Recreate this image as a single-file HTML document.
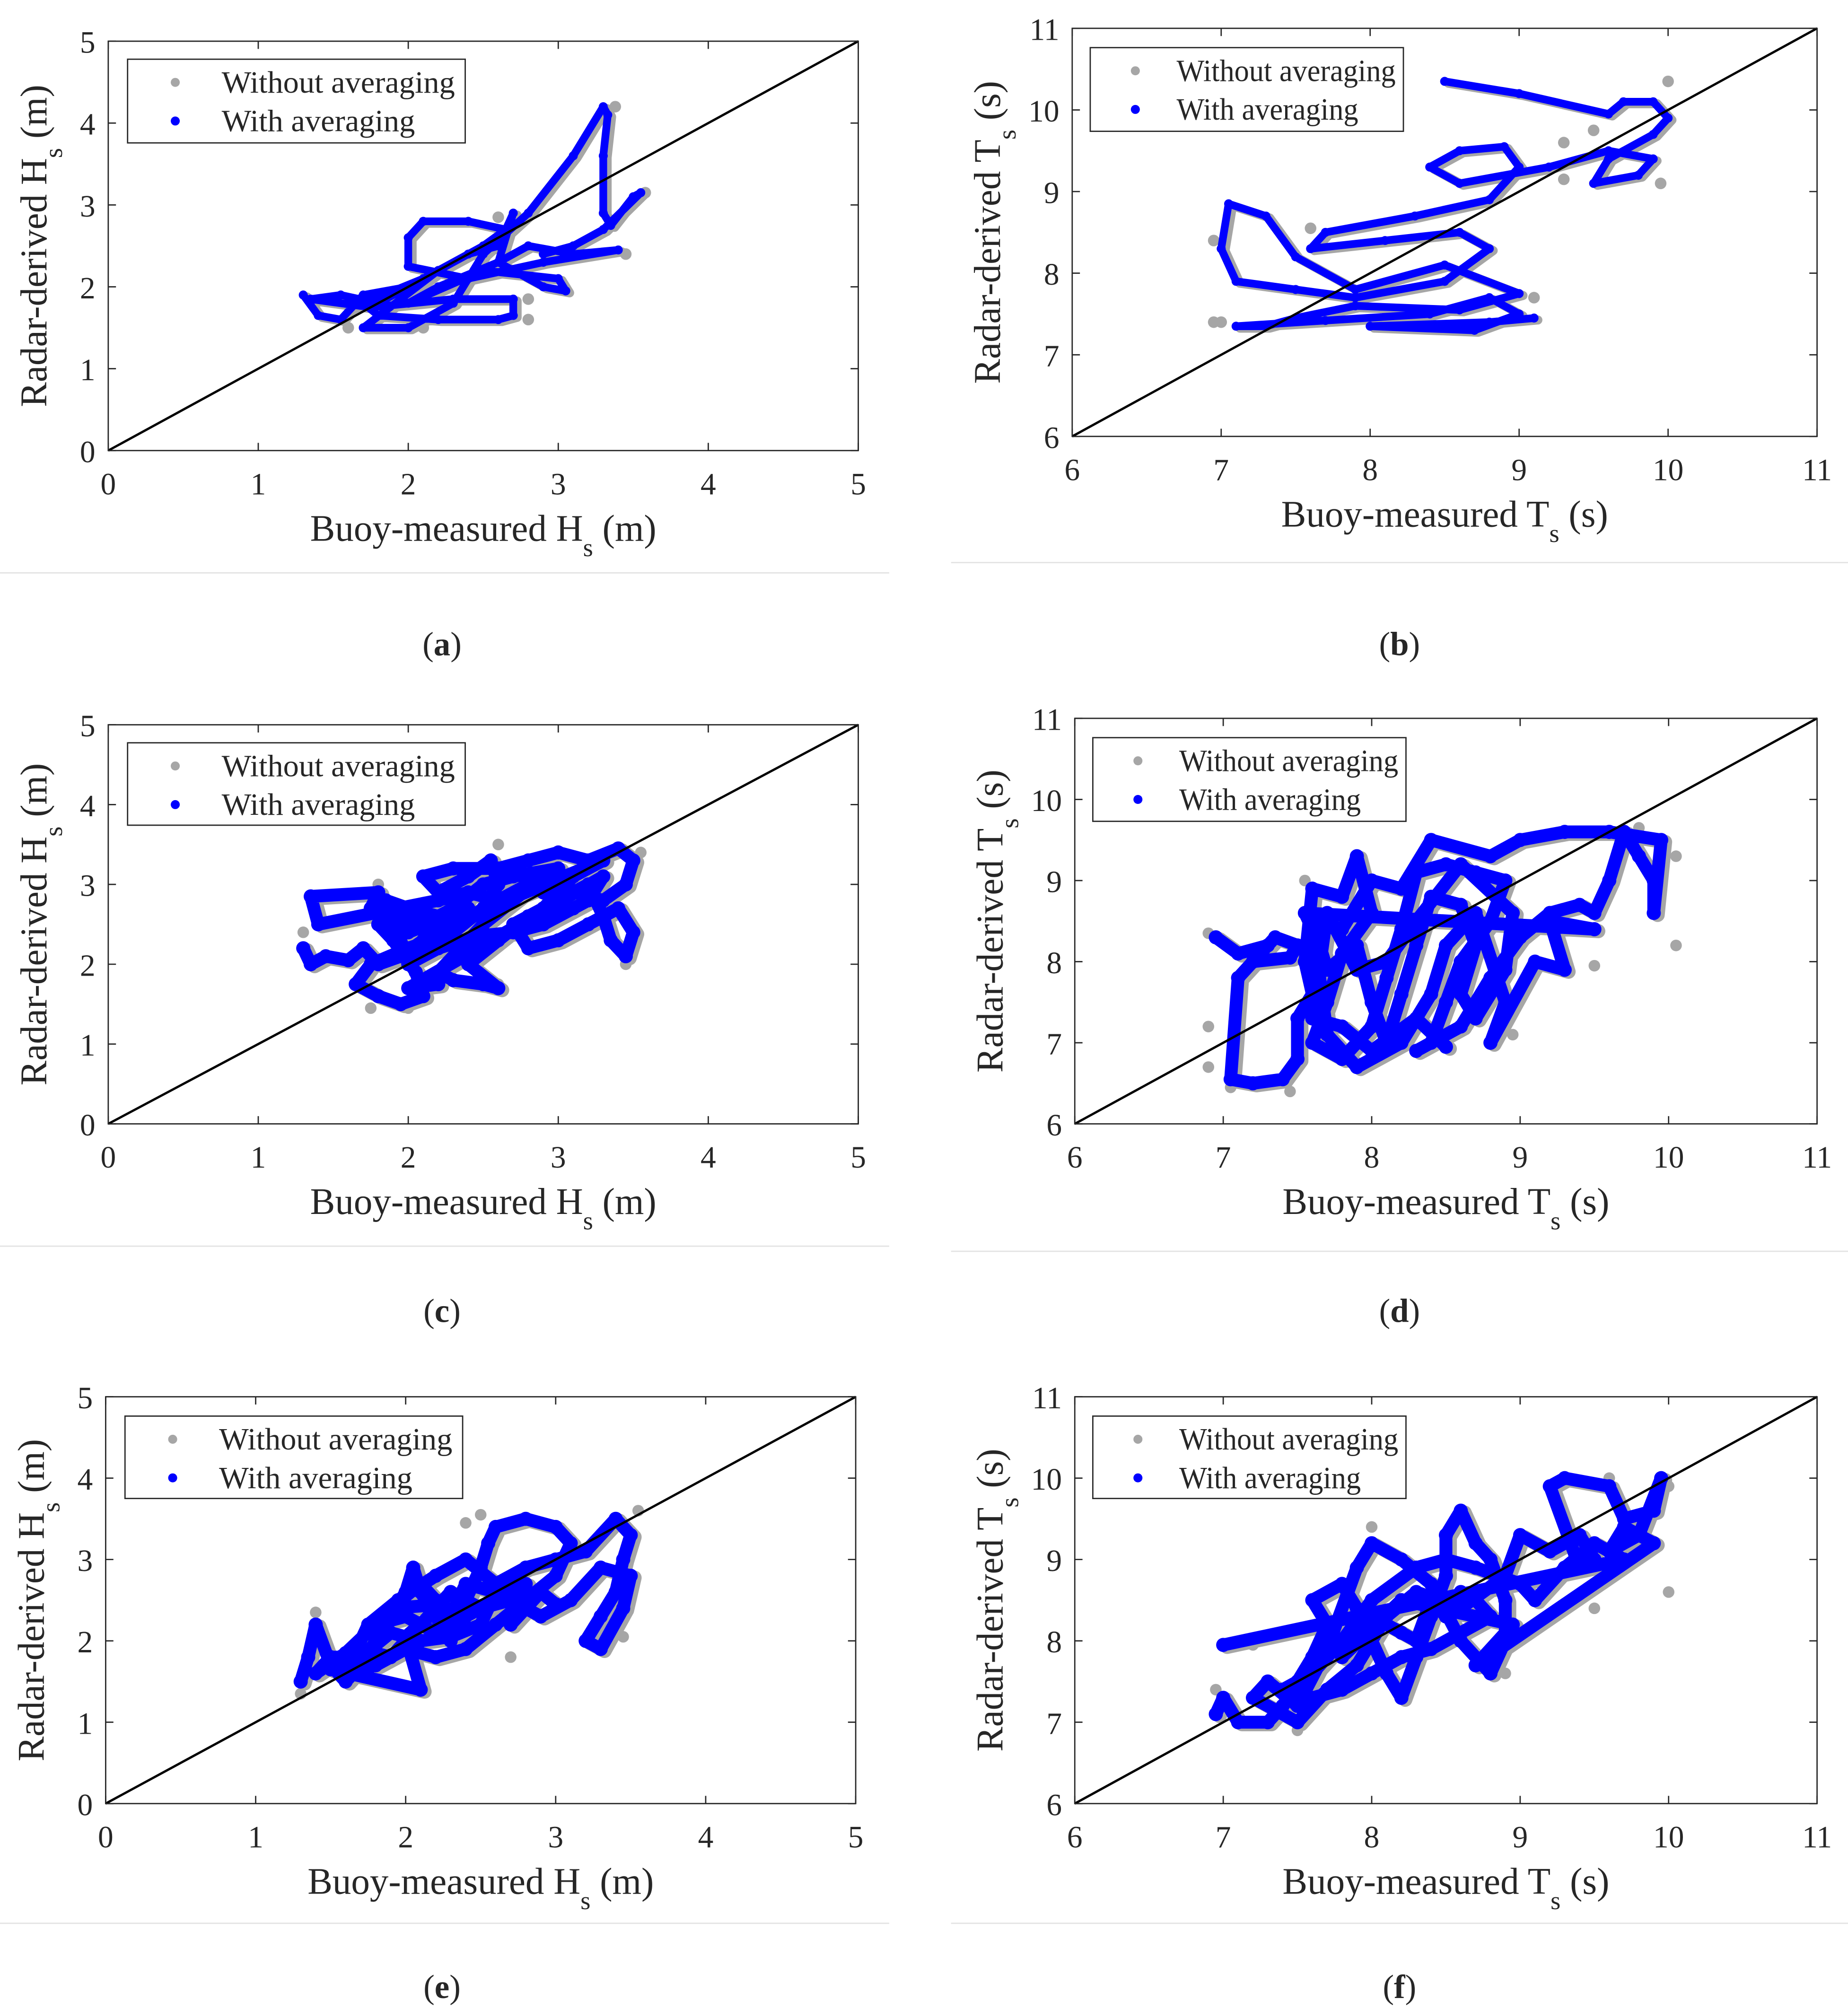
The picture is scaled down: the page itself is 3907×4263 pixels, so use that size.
<!DOCTYPE html>
<html><head><meta charset="utf-8">
<style>
html,body{margin:0;padding:0;background:#fff;}
svg{display:block;}
text{font-family:"Liberation Serif","Times New Roman",serif;fill:#262626;}
</style></head>
<body>
<svg id="fig" width="3907" height="4263" viewBox="0 0 1434 1566" preserveAspectRatio="none" xmlns="http://www.w3.org/2000/svg"></svg>
<script>
// ---------- DATA ----------
const hsTicks = [0,1,2,3,4,5];
const tsTicks = [6,7,8,9,10,11];
const legendLabels = ["Without averaging","With averaging"];

const aBlue = [[1.3,1.9],[1.4,1.65],[1.55,1.6],[1.7,1.9],[2.0,2.0],[1.8,1.8],[1.55,1.9],[1.35,1.85],[1.75,1.75],[2.3,1.85],[2.7,1.85],[2.7,1.65],[2.6,1.6],[2.2,1.6],[1.8,1.65],[1.7,1.8],[2.1,2.1],[2.4,2.4],[2.6,2.5],[2.7,2.9],[2.6,2.3],[2.2,2.0],[2.0,1.8],[2.5,2.2],[3.0,2.1],[3.05,1.95],[2.9,2.0],[2.6,2.3],[2.8,2.5],[3.1,2.4],[3.4,2.45],[2.9,2.3],[2.4,2.1],[2.0,2.25],[2.0,2.6],[2.1,2.8],[2.4,2.8],[2.65,2.7],[2.5,2.5],[2.2,2.2],[1.7,1.5],[2.0,1.5],[2.3,1.8],[2.5,2.4],[2.8,2.9],[3.1,3.6],[3.3,4.2],[3.33,4.1],[3.3,3.6],[3.3,2.9],[3.35,2.75],[3.5,3.1],[3.55,3.15],[3.3,2.7],[3.1,2.5],[2.9,2.4]];
const aGray = [[1.6,1.5],[2.1,1.5],[2.8,1.6],[2.8,1.85],[3.45,2.4],[3.38,4.2],[3.58,3.15],[2.6,2.85]];

const bBlue = [[8.5,10.35],[9.0,10.2],[9.6,9.95],[9.7,10.1],[9.9,10.1],[10.0,9.9],[9.9,9.7],[9.6,9.4],[9.5,9.1],[9.8,9.2],[9.9,9.4],[9.6,9.5],[9.2,9.3],[8.6,9.1],[8.4,9.3],[8.6,9.5],[8.9,9.55],[9.0,9.3],[8.8,8.9],[8.3,8.7],[7.7,8.5],[7.6,8.3],[8.1,8.4],[8.6,8.5],[8.8,8.3],[8.5,7.9],[7.9,7.7],[7.5,7.8],[7.1,7.9],[7.0,8.3],[7.05,8.85],[7.3,8.7],[7.5,8.2],[7.9,7.8],[8.5,8.1],[9.0,7.75],[8.6,7.55],[7.9,7.6],[7.5,7.45],[7.3,7.35],[7.1,7.35],[7.7,7.42],[8.4,7.5],[8.8,7.7],[9.0,7.5],[8.7,7.3],[8.0,7.35],[8.8,7.4],[9.1,7.45]];
const bGray = [[9.3,9.6],[9.5,9.75],[10.0,10.35],[9.95,9.1],[9.3,9.15],[7.6,8.55],[6.95,7.4],[7.0,7.4],[9.1,7.7],[6.95,8.4]];

const cBlue = [[1.3,2.2],[1.35,2.0],[1.45,2.1],[1.6,2.05],[1.7,2.2],[1.8,2.0],[1.95,2.1],[2.1,2.3],[2.2,2.6],[2.0,2.7],[1.85,2.8],[1.8,2.5],[1.9,2.3],[2.05,1.9],[2.1,1.6],[1.95,1.5],[1.8,1.6],[1.65,1.75],[1.75,2.0],[2.0,2.2],[2.3,2.4],[2.5,2.7],[2.6,3.0],[2.55,3.3],[2.4,3.1],[2.2,2.9],[2.1,3.1],[2.3,3.2],[2.6,3.2],[2.8,3.3],[3.0,3.4],[3.2,3.3],[3.4,3.45],[3.5,3.3],[3.45,3.0],[3.3,2.8],[3.1,2.9],[2.9,3.1],[2.7,2.8],[2.5,2.5],[2.35,2.2],[2.2,1.9],[2.3,1.8],[2.5,1.75],[2.6,1.7],[2.4,2.0],[2.6,2.3],[2.8,2.6],[3.0,2.8],[3.2,3.0],[3.3,2.6],[3.35,2.3],[3.45,2.1],[3.5,2.4],[3.4,2.7],[3.2,2.5],[3.0,2.3],[2.8,2.2],[2.7,2.5],[2.9,2.7],[3.1,3.1],[3.3,3.3],[2.2,2.45],[2.4,2.7],[2.0,2.4],[1.75,2.7],[1.8,2.9],[1.35,2.85],[1.4,2.5],[2.2,2.8],[2.4,2.9],[2.6,2.8],[2.8,3.0],[2.9,2.9],[3.0,3.2],[2.7,3.1],[2.5,3.0],[2.3,2.7],[2.1,2.5],[1.9,2.6],[2.0,2.0],[2.2,2.2],[2.45,2.35],[2.7,2.4],[2.9,2.5],[3.1,2.7],[3.2,2.8],[3.3,3.1],[2.0,1.7],[2.2,1.75]];
const cGray = [[1.75,1.45],[2.0,1.45],[2.6,1.75],[3.45,2.0],[3.55,3.4],[2.6,3.5],[1.8,3.0],[1.3,2.4]];

const dBlue = [[6.95,8.3],[7.1,8.1],[7.3,8.2],[7.2,8.0],[7.45,8.05],[7.5,8.2],[7.35,8.3],[7.1,7.8],[7.05,6.55],[7.2,6.5],[7.4,6.55],[7.5,6.8],[7.5,7.3],[7.6,7.6],[7.55,8.0],[7.6,8.9],[7.8,8.8],[7.9,9.3],[8.0,8.6],[7.8,8.1],[7.7,7.5],[7.6,7.0],[7.8,6.8],[8.0,7.2],[8.1,7.8],[8.2,8.4],[8.3,9.1],[8.5,9.2],[8.7,9.1],[8.9,9.0],[8.8,8.5],[8.6,8.0],[8.5,7.5],[8.4,7.0],[8.3,6.9],[8.6,7.2],[8.8,7.8],[9.0,8.3],[9.2,8.6],[9.4,8.7],[9.5,8.6],[9.6,9.0],[9.7,9.6],[9.8,9.3],[9.9,9.0],[9.9,8.6],[9.95,9.5],[9.6,9.6],[9.3,9.6],[9.0,9.5],[8.8,9.3],[8.4,9.5],[8.2,8.9],[8.0,9.0],[7.8,8.4],[7.6,8.5],[7.7,7.1],[7.9,6.7],[8.2,7.0],[8.4,7.6],[8.5,8.2],[8.7,8.6],[8.9,7.5],[8.8,7.0],[9.1,8.0],[9.3,7.9],[9.2,8.5],[9.5,8.4],[7.55,8.6],[7.65,8.2],[7.7,7.9],[7.9,8.2],[8.0,7.5],[8.1,7.0],[8.2,7.6],[8.3,8.2],[8.4,8.8],[8.6,8.7],[8.7,8.2],[8.6,7.6],[8.7,7.3],[8.9,7.9],[8.95,8.6],[8.6,9.2],[8.3,8.5],[8.1,8.0],[7.9,7.9],[7.7,8.6],[7.6,7.3],[7.8,7.2],[8.0,6.9],[8.3,7.3],[8.5,6.95]];
const dGray = [[6.9,7.2],[6.9,6.7],[7.05,6.45],[7.45,6.4],[8.95,7.1],[9.5,7.95],[10.05,8.2],[10.05,9.3],[9.8,9.65],[7.55,9.0],[6.9,8.35]];

const eBlue = [[1.3,1.5],[1.35,1.8],[1.4,2.2],[1.5,1.7],[1.6,1.5],[1.7,1.7],[1.8,2.0],[1.9,2.3],[2.0,2.6],[2.05,2.9],[2.1,2.6],[2.2,2.3],[2.3,2.0],[2.4,2.5],[2.5,2.9],[2.55,3.2],[2.6,3.4],[2.8,3.5],[3.0,3.4],[3.1,3.2],[3.0,2.8],[2.8,2.5],[2.6,2.2],[2.4,1.9],[2.2,1.8],[2.0,1.9],[1.8,1.7],[1.6,1.6],[1.75,2.2],[1.95,2.5],[2.2,2.8],[2.4,3.0],[2.6,2.7],[2.8,2.9],[3.0,3.0],[3.2,3.1],[3.4,3.5],[3.5,3.3],[3.45,3.0],[3.4,2.6],[3.3,2.3],[3.2,2.0],[3.3,1.9],[3.45,2.4],[3.5,2.8],[3.3,2.9],[3.1,2.5],[2.9,2.3],[2.7,2.5],[2.5,2.4],[2.3,2.6],[2.1,2.2],[1.9,1.8],[1.7,1.9],[1.5,1.65],[2.1,1.4],[2.0,2.05],[2.25,2.45],[1.9,2.4],[2.1,2.7],[2.2,2.5],[2.3,2.3],[2.4,2.7],[2.6,2.6],[2.5,2.2],[2.3,2.05],[2.1,2.0],[1.9,2.1],[1.7,1.8],[1.5,1.8],[1.4,1.6],[1.6,1.85],[1.8,2.2],[2.0,2.3],[2.2,2.1],[2.4,2.3],[2.6,2.5],[2.8,2.7],[2.7,2.2],[2.9,2.6],[3.0,2.45]];
const eGray = [[1.3,1.35],[1.4,2.35],[2.4,3.45],[2.5,3.55],[3.55,3.6],[3.45,2.05],[3.3,2.1],[2.7,1.8]];

const fBlue = [[6.95,7.1],[7.0,7.3],[7.1,7.0],[7.3,7.0],[7.4,7.2],[7.5,7.5],[7.6,7.8],[7.7,8.2],[7.6,8.5],[7.8,8.7],[7.9,8.4],[8.0,8.0],[8.1,7.6],[8.2,7.3],[8.3,7.8],[8.4,8.3],[8.5,8.8],[8.5,9.3],[8.6,9.6],[8.7,9.2],[8.8,9.0],[8.9,8.5],[8.9,8.0],[8.8,7.6],[8.6,8.0],[8.4,8.7],[8.2,9.0],[8.0,9.2],[7.9,8.9],[7.7,7.9],[7.5,7.2],[7.3,7.5],[7.2,7.3],[7.5,7.0],[7.7,7.4],[7.9,7.7],[8.1,8.3],[8.3,8.6],[8.6,8.4],[8.9,8.8],[9.0,9.3],[9.2,9.1],[9.4,9.3],[9.5,9.0],[9.4,8.9],[9.2,9.9],[9.3,10.0],[9.6,9.9],[9.7,9.5],[9.9,9.6],[9.95,10.0],[9.8,9.3],[9.6,9.1],[9.7,9.4],[9.9,9.2],[8.7,7.7],[8.95,8.2],[8.2,8.5],[7.8,7.8],[8.0,8.3],[8.2,8.1],[8.3,8.0],[8.4,8.5],[8.5,8.3],[8.6,8.6],[8.7,8.5],[8.8,8.3],[8.6,8.1],[8.4,7.9],[8.2,7.8],[8.0,7.6],[7.8,7.4],[7.6,7.3],[7.4,7.4],[7.6,7.6],[7.8,8.0],[8.0,8.5],[8.3,8.9],[8.5,9.0],[8.7,8.9],[9.0,8.7],[9.1,8.5],[9.3,8.9],[9.5,9.2],[9.7,9.0],[7.0,7.95]];
const fGray = [[6.95,7.4],[7.2,7.95],[7.5,6.9],[8.9,7.6],[9.5,8.4],[10.0,8.6],[10.0,9.9],[9.6,10.0],[8.0,9.4]];

// ---------- LAYOUT ----------
const panels = [
 {id:"a",x0:84,x1:666,y0:350,y1:32,t:hsTicks,blue:aBlue,gray:aGray,q:"H",u:"(m)",leg:[99,46,262,65],sep:[0,690,445],capX:343,capY:500,w:6},
 {id:"b",x0:832,x1:1410,y0:339,y1:22,t:tsTicks,blue:bBlue,gray:bGray,q:"T",u:"(s)",leg:[846,37,243,65],sep:[738,1434,437],capX:1086,capY:500,w:6},
 {id:"c",x0:84,x1:666,y0:873,y1:563,t:hsTicks,blue:cBlue,gray:cGray,q:"H",u:"(m)",leg:[99,577,262,64],sep:[0,690,968],capX:343,capY:1018,w:10},
 {id:"d",x0:834,x1:1410,y0:873,y1:558,t:tsTicks,blue:dBlue,gray:dGray,q:"T",u:"(s)",leg:[848,573,243,65],sep:[738,1434,972],capX:1086,capY:1018,w:10},
 {id:"e",x0:82,x1:664,y0:1401,y1:1085,t:hsTicks,blue:eBlue,gray:eGray,q:"H",u:"(m)",leg:[97,1100,262,64],sep:[0,690,1494],capX:343,capY:1543,w:10},
 {id:"f",x0:834,x1:1410,y0:1401,y1:1085,t:tsTicks,blue:fBlue,gray:fGray,q:"T",u:"(s)",leg:[848,1100,243,64],sep:[738,1434,1494],capX:1086,capY:1543,w:10}
];
const NS="http://www.w3.org/2000/svg";
const svg=document.getElementById("fig");
function mk(tag,attrs,parent){const e=document.createElementNS(NS,tag);for(const k in attrs)e.setAttribute(k,attrs[k]);(parent||svg).appendChild(e);return e;}

panels.forEach((p)=>{
  const g=mk("g",{});
  
  
  const lo=p.t[0],hi=p.t[p.t.length-1];
  const sx=v=>p.x0+(v-lo)/(hi-lo)*(p.x1-p.x0);
  const sy=v=>p.y0+(v-lo)/(hi-lo)*(p.y1-p.y0);
  const pts=p.blue.map(d=>sx(d[0])+","+sy(d[1])).join(" ");
  const gg=mk("g",{},g);
  
  
  const gl=mk("polyline",{points:pts,fill:"none",stroke:"#a6a6a6","stroke-width":p.w+1,"stroke-linejoin":"round","stroke-linecap":"round",transform:"translate(3,1.5)"},gg);
  
  
  p.gray.forEach(d=>{
    const c=mk("circle",{cx:sx(d[0]),cy:sy(d[1]),r:4.5,fill:"#a6a6a6"},gg);
    
    
  });
  const bg=mk("g",{},g);
  
  
  const bl=mk("polyline",{points:pts,fill:"none",stroke:"#0000ff","stroke-width":p.w,"stroke-linejoin":"round","stroke-linecap":"round"},bg);
  
  
  p.blue.forEach(d=>{
    const c=mk("circle",{cx:sx(d[0]),cy:sy(d[1]),r:p.w/2+0.5,fill:"#0000ff"},bg);
    
    
  });
  const dl=mk("line",{x1:sx(lo),y1:sy(lo),x2:sx(hi),y2:sy(hi),stroke:"#000","stroke-width":1.8},g);
  
  
  const bx=mk("rect",{x:p.x0,y:p.y1,width:p.x1-p.x0,height:p.y0-p.y1,fill:"none",stroke:"#262626","stroke-width":1},g);
  
  
  p.t.forEach(v=>{
    const X=sx(v),Y=sy(v);
    [[X,p.y0,X,p.y0-6],[X,p.y1,X,p.y1+6],[p.x0,Y,p.x0+6,Y],[p.x1,Y,p.x1-6,Y]].forEach(a=>{
      const tk=mk("line",{x1:a[0],y1:a[1],x2:a[2],y2:a[3],stroke:"#262626","stroke-width":1},g);
      
      
    });
    const tx=mk("text",{x:X,y:p.y0+34,"font-size":24,"text-anchor":"middle"},g);tx.textContent=v;
    
    
    const ty=mk("text",{x:p.x0-10,y:Y+9,"font-size":24,"text-anchor":"end"},g);ty.textContent=v;
    
    
  });
  const xt=mk("text",{x:(p.x0+p.x1)/2,y:p.y0+70,"font-size":29,"text-anchor":"middle"},g);
  xt.innerHTML='Buoy-measured '+p.q+'<tspan dy="12" font-size="20">s</tspan><tspan dy="-12"> '+p.u+'</tspan>';
  
  
  const yt=mk("text",{x:0,y:0,"font-size":29,"text-anchor":"middle",transform:"translate("+(p.x0-(p.q==="H"?48:56))+","+((p.y0+p.y1)/2)+") rotate(-90)"},g);
  yt.innerHTML='Radar-derived '+p.q+'<tspan dy="12" font-size="20">s</tspan><tspan dy="-12"> '+p.u+'</tspan>';
  
  
  const L=p.leg;
  const isT=p.q==="T";
  const lg=mk("g",{},g);
  
  
  mk("rect",{x:L[0],y:L[1],width:L[2],height:L[3],fill:"#fff",stroke:"#262626","stroke-width":1},lg);
  [["#a6a6a6",0],["#0000ff",1]].forEach(([col,k])=>{
    const yy=L[1]+18+k*30;
    const m=mk("circle",{cx:L[0]+(isT?35:37),cy:yy,r:3.5,fill:col},lg);
    
    
    const full=isT?170:181;
    const t=mk("text",{x:L[0]+(isT?67:73),y:yy+8,"font-size":24,textLength:(k===0?full:Math.round(full*0.83)),lengthAdjust:"spacingAndGlyphs"},lg);t.textContent=legendLabels[k];
    
    
  });
  const s=mk("line",{x1:p.sep[0],y1:p.sep[2],x2:p.sep[1],y2:p.sep[2],stroke:"#e3e3e3","stroke-width":1},g);
  
  
  const cp=mk("text",{x:p.capX,y:p.capY+9,"font-size":26,"text-anchor":"middle"},g);
  cp.innerHTML='(<tspan font-weight="bold">'+p.id+'</tspan>)';
  
  
});
</script>
</body></html>
